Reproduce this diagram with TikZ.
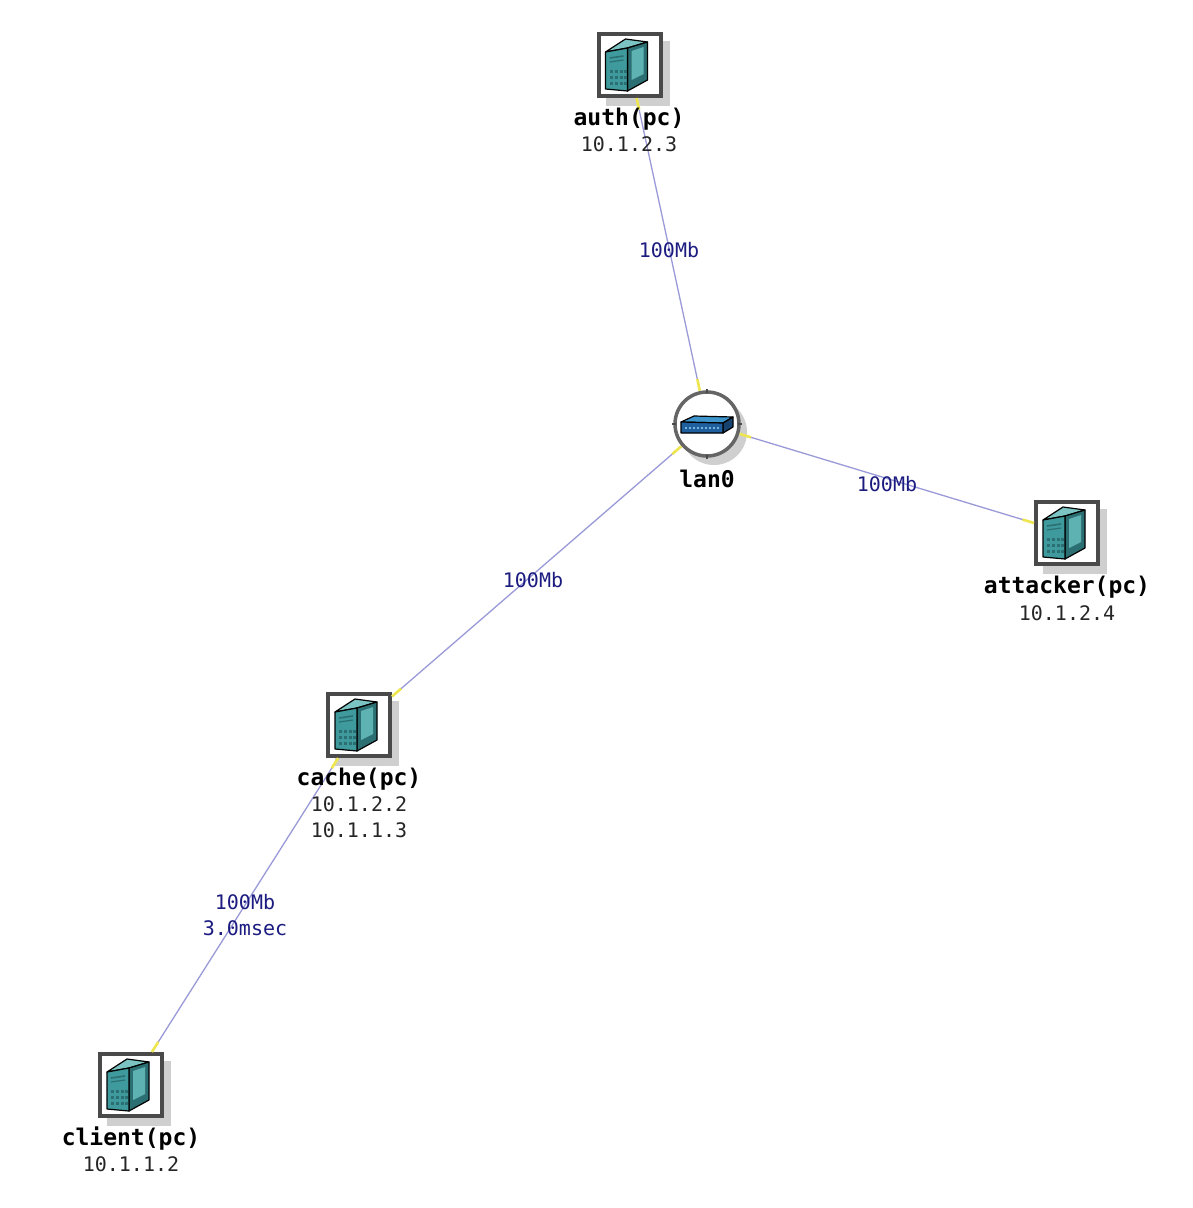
\documentclass[tikz,border=0pt]{standalone}
\usepackage{fontspec}
\newfontfamily\labfont{DejaVu Sans Mono}
\usetikzlibrary{calc}
\definecolor{linkblue}{HTML}{9A9AD8}
\definecolor{linkyel}{HTML}{EDE650}
\definecolor{shadowgray}{HTML}{CFCFCF}
\definecolor{edgetxt}{HTML}{1C1C80}
\definecolor{frameg}{HTML}{4A4A4A}
\definecolor{tealF}{HTML}{3E9A9C}
\definecolor{tealS}{HTML}{2C6F73}
\definecolor{tealP}{HTML}{5FB2B2}
\definecolor{tealT}{HTML}{7CC4C4}
\definecolor{swF}{HTML}{1F5F9E}
\definecolor{swT}{HTML}{3D95CC}
\tikzset{
  x=1pt,y=-1pt,
  pcbox/.style={draw=frameg,line width=4pt,fill=white,minimum size=62pt,inner sep=0pt,outer sep=2pt},
  lanbox/.style={circle,draw=frameg!85,line width=3.5pt,fill=white,minimum size=64pt,inner sep=0pt,outer sep=2pt},
  nametxt/.style={font=\labfont\bfseries\fontsize{23}{26}\selectfont,inner sep=0pt,text=black},
  iptxt/.style={font=\labfont\fontsize{20}{26.5}\selectfont,inner sep=0pt,align=center,text=black!85},
  edgelab/.style={font=\labfont\fontsize{20}{26}\selectfont,inner sep=0pt,align=center,text=edgetxt},
  linkline/.style={draw=linkblue,line width=1.3pt},
  linkend/.style={draw=linkyel,line width=2.6pt},
  iconline/.style={draw=black,line width=1.2pt,line join=round},
}
\newcommand{\shadowbox}[2]{\fill[shadowgray] ($(#1,#2)+(-24,-24)$) rectangle ($(#1,#2)+(40,41)$);}
\newcommand{\servericon}[1]{%
  \begin{scope}[shift={(#1.center)}]
    \filldraw[iconline,fill=tealT] (-24,-13) -- (-4,-26) -- (18,-23) -- (-2,-17) -- cycle;
    \filldraw[iconline,fill=tealS] (-2,-17) -- (18,-23) -- (18,15) -- (-2,26) -- cycle;
    \fill[tealP] (2,-14) -- (14,-18) -- (14,9) -- (2,15) -- cycle;
    \filldraw[iconline,fill=tealF] (-24,-13) -- (-2,-17) -- (-2,26) -- (-24,24) -- cycle;
    \draw[tealS,line width=1.6pt] (-20,-7) -- (-6,-9);
    \draw[tealS,line width=1.2pt] (-20,-3) -- (-6,-5);
    \foreach \kx in {-20,-15,-10,-6}
      \foreach \ky in {5,11,17}
        \fill[tealS] (\kx,\ky) rectangle ++(3,3);
  \end{scope}}
\newcommand{\switchicon}[1]{%
  \begin{scope}[shift={(#1.center)}]
    \filldraw[iconline,fill=swT] (-26,-2) -- (-13,-8) -- (26,-7) -- (16,-1) -- cycle;
    \filldraw[iconline,fill=swF!70!black] (16,-1) -- (26,-7) -- (26,3) -- (16,9) -- cycle;
    \filldraw[iconline,fill=swF] (-26,-2) -- (16,-1) -- (16,9) -- (-26,9) -- cycle;
    \foreach \kx in {-22,-18,...,12}
      \fill[swT!70!white] (\kx,3) rectangle ++(1.6,2);
  \end{scope}}
\newcommand{\lnk}[2]{%
  \draw[linkline] (#1) -- (#2)
    coordinate[pos=0] (s#1#2) coordinate[pos=1] (e#1#2);
  \draw[linkend] (s#1#2) -- ($(s#1#2)!12pt!(e#1#2)$);
  \draw[linkend] (e#1#2) -- ($(e#1#2)!12pt!(s#1#2)$);}
\begin{document}
\begin{tikzpicture}
\useasboundingbox (0,0) rectangle (1192,1208);
\fill[white] (0,0) rectangle (1192,1208);
% shadows
\shadowbox{629.5}{65}
\shadowbox{1067}{533}
\shadowbox{359}{725}
\shadowbox{131}{1085}
\fill[shadowgray] (714,432) circle (33);
% nodes
\node[pcbox] (auth) at (629.5,65) {};
\node[pcbox] (attacker) at (1067,533) {};
\node[pcbox] (cache) at (359,725) {};
\node[pcbox] (client) at (131,1085) {};
\node[lanbox] (lan) at (707,424) {};
\servericon{auth}
\servericon{attacker}
\servericon{cache}
\servericon{client}
\switchicon{lan}
% ticks on the hub ring
\foreach \a in {0,90,180,270}
  \draw[frameg,line width=1.2pt] ($(lan.center)+(\a:31)$) -- ($(lan.center)+(\a:35)$);
% connectors
\lnk{auth}{lan}
\lnk{lan}{attacker}
\lnk{lan}{cache}
\lnk{cache}{client}
% labels
\node[nametxt] (nauth) at (629,119) {auth(pc)};
\node[iptxt] (iauth) at (629,144) {10.1.2.3};
\node[nametxt] (nlan) at (707,479) {lan0};
\node[nametxt] (natt) at (1067,587) {attacker(pc)};
\node[iptxt] (iatt) at (1067,613) {10.1.2.4};
\node[nametxt] (ncache) at (359,779) {cache(pc)};
\node[iptxt,anchor=north] (icache) at (359,796) {10.1.2.2\\10.1.1.3};
\node[nametxt] (nclient) at (131,1139) {client(pc)};
\node[iptxt] (iclient) at (131,1164) {10.1.1.2};
\node[edgelab] (e1) at (669,250) {100Mb};
\node[edgelab] (e2) at (887,484) {100Mb};
\node[edgelab] (e3) at (533,580) {100Mb};
\node[edgelab,anchor=north] (e4) at (245,894) {100Mb\\3.0msec};
\end{tikzpicture}
\end{document}
